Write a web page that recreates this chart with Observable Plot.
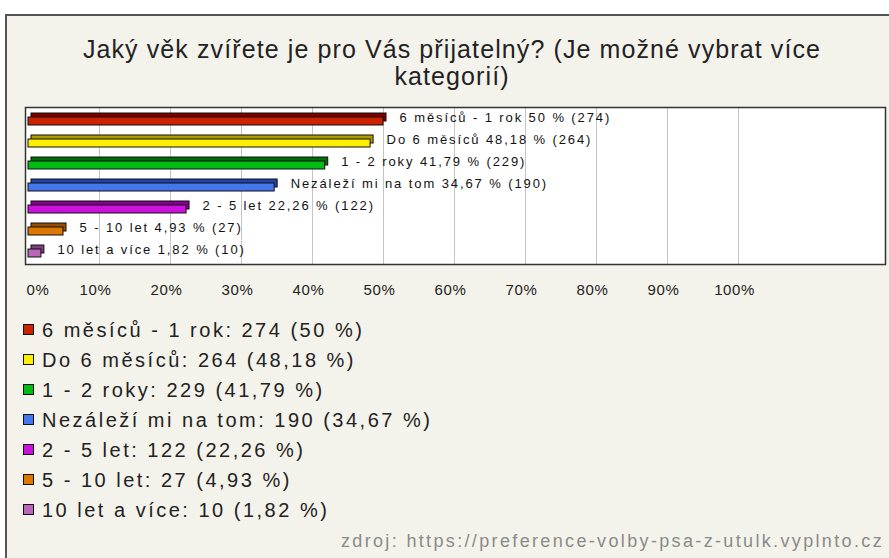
<!DOCTYPE html>
<html>
<head>
<meta charset="utf-8">
<script src="https://cdn.jsdelivr.net/npm/d3@7"></script>
<script src="https://cdn.jsdelivr.net/npm/@observablehq/plot@0.6"></script>
<style>
  html, body { margin: 0; padding: 0; background: #ffffff; overflow: hidden; }
  #wrap { position: relative; width: 889px; height: 558px; overflow: hidden; font-family: "Liberation Sans", Arial, sans-serif; }
  #panel { position: absolute; left: 5px; top: 14px; width: 920px; height: 600px; background: #f4f3eb; border-top: 2px solid #555; border-left: 2px solid #555; }
  #title { position: absolute; left: 0; top: 36px; width: 904px; text-align: center; font-size: 25px; line-height: 27px; color: #222; letter-spacing: 1.1px; }
  #chart { position: absolute; left: 0; top: 0; }
  #legend { position: absolute; left: 23px; top: 315px; }
  .row { position: relative; height: 30px; font-size: 20px; line-height: 30px; color: #222; white-space: nowrap; letter-spacing: 2.5px; }
  .sw { position: absolute; left: 0; top: 9px; width: 9px; height: 9px; border: 1px solid #111; }
  .lt { position: absolute; left: 19px; top: 0; }
  #source { position: absolute; right: 5px; top: 531px; font-size: 18px; color: #8a8a8a; white-space: nowrap; letter-spacing: 2.35px; }
</style>
</head>
<body>
<div id="wrap">
  <div id="panel"></div>
  <div id="title">Jaký věk zvířete je pro Vás přijatelný? (Je možné vybrat více<br>kategorií)</div>
  <div id="chart"></div>
  <div id="legend"></div>
  <div id="source">zdroj: https://preference-volby-psa-z-utulk.vyplnto.cz</div>
</div>
<script>
const categories = ["6 měsíců - 1 rok", "Do 6 měsíců", "1 - 2 roky", "Nezáleží mi na tom", "2 - 5 let", "5 - 10 let", "10 let a více"];
const counts = [274, 264, 229, 190, 122, 27, 10];
const percents = [50, 48.18, 41.79, 34.67, 22.26, 4.93, 1.82];
const percentLabels = ["50", "48,18", "41,79", "34,67", "22,26", "4,93", "1,82"];
const frontColors = ["#cc2200", "#ffee00", "#00bb11", "#4477ee", "#cc11dd", "#dd7700", "#bb66bb"];
const backColors = ["#800000", "#b09c00", "#006e08", "#1f44aa", "#85008f", "#964e00", "#804080"];
const tickValues = [0, 10, 20, 30, 40, 50, 60, 70, 80, 90, 100];

const data = categories.map((c, i) => ({
  category: c,
  count: counts[i],
  pct: percents[i],
  label: `${c} ${percentLabels[i]} % (${counts[i]})`,
  front: frontColors[i],
  back: backColors[i]
}));

const chart = Plot.plot({
  width: 889,
  height: 310,
  marginLeft: 25,
  marginRight: 4,
  marginTop: 107,
  marginBottom: 46,
  style: { background: "transparent", fontFamily: "Liberation Sans, Arial, sans-serif", overflow: "visible" },
  x: { domain: [-0.4225, 120.7], axis: null, label: null },
  y: { domain: categories, axis: null, paddingInner: 0, paddingOuter: 0 },
  marks: [
    Plot.frame({ fill: "#ffffff", stroke: "none" }),
    Plot.gridX(tickValues.filter(d => d > 0), { stroke: "#c4c4c4", strokeOpacity: 1, strokeWidth: 1 }),
    Plot.rect(data, {
      x1: 0, x2: "pct", y: "category",
      fill: "back", stroke: "#111", strokeWidth: 1,
      insetTop: 4, insetBottom: 10, dx: 3
    }),
    Plot.rect(data, {
      x1: 0, x2: "pct", y: "category",
      fill: "front", stroke: "#111", strokeWidth: 1,
      insetTop: 8, insetBottom: 6
    }),
    Plot.text(data, {
      x: "pct", y: "category", text: "label",
      textAnchor: "start", dx: 16, dy: -3,
      fontSize: 13, fill: "#111"
    }),
    Plot.frame({ stroke: "#333", strokeWidth: 1.5 }),
    Plot.axisX([0], {
      label: null, tickSize: 0, tickPadding: 20, textAnchor: "start", dx: -2,
      tickFormat: d => d + "%", fontSize: 15, fill: "#222"
    }),
    Plot.axisX(tickValues.filter(d => d > 0), {
      label: null, tickSize: 0, tickPadding: 20, dx: -4,
      tickFormat: d => d + "%", fontSize: 15, fill: "#222"
    })
  ]
});
chart.querySelectorAll('g[aria-label="text"] text').forEach(t => t.style.letterSpacing = "1.9px");
chart.querySelectorAll('g[aria-label="x-axis tick label"] text').forEach(t => t.style.letterSpacing = "0.6px");
document.getElementById("chart").appendChild(chart);

const legend = document.getElementById("legend");
data.forEach(d => {
  const row = document.createElement("div");
  row.className = "row";
  const sw = document.createElement("span");
  sw.className = "sw";
  sw.style.background = d.front;
  const t = document.createElement("span");
  t.className = "lt";
  t.textContent = `${d.category}: ${d.count} (${d.pct.toString().replace(".", ",")} %)`;
  row.appendChild(sw);
  row.appendChild(t);
  legend.appendChild(row);
});
</script>
</body>
</html>
